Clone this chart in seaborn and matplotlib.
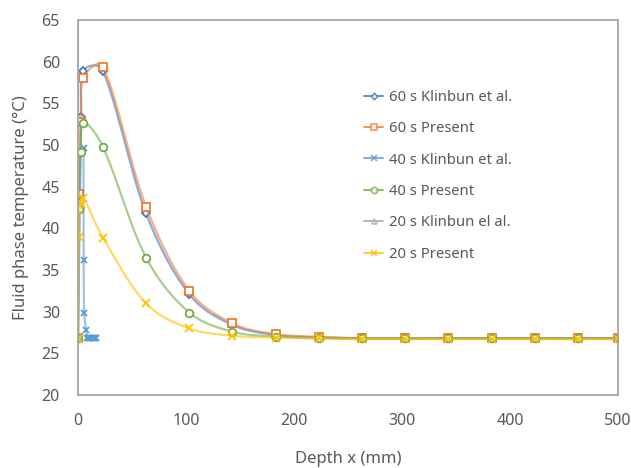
import numpy as np
import pandas as pd
import matplotlib
matplotlib.use("Agg")
import matplotlib.pyplot as plt
from matplotlib.lines import Line2D
import seaborn as sns

# ---------------- data ----------------
present_x = [0, 0.8, 2.5, 5, 23, 63, 103, 143, 183, 223, 263, 303, 343, 383, 423, 463, 500]
present60_y = [26.8, 44.1, 52.8, 58.0, 59.4, 42.6, 32.5, 28.6, 27.3, 27.0, 26.8, 26.8, 26.8, 26.8, 26.8, 26.8, 26.8]
present40_y = [26.8, 42.3, 49.2, 52.7, 49.8, 36.5, 29.9, 27.6, 27.0, 26.8, 26.8, 26.8, 26.8, 26.8, 26.8, 26.8, 26.8]
present20_y = [26.7, 39.0, 42.9, 43.7, 38.9, 31.0, 28.0, 27.1, 26.9, 26.8, 26.7, 26.7, 26.7, 26.7, 26.7, 26.7, 26.7]

klinbun60_x = [0, 3, 5, 23, 63, 103, 143, 183, 223, 263, 303, 343, 383, 423, 463, 500]
klinbun60_y = [26.8, 53.4, 58.9, 58.9, 41.8, 32.1, 28.4, 27.2, 26.9, 26.8, 26.8, 26.8, 26.8, 26.8, 26.8, 26.8]

klinbun40_x = [5.1, 5.2, 5.7, 7.6, 8.5, 9.5, 10.5, 11.5, 12.5, 13.5, 14.5, 15.5, 16.5]
klinbun40_y = [49.7, 36.2, 29.9, 27.8, 26.8, 26.8, 26.8, 26.8, 26.8, 26.8, 26.8, 26.8, 26.8]

klinbun20_x = [0, 0]
klinbun20_y = [26.8, 68]

labels = ["60 s Klinbun et al.", "60 s Present", "40 s Klinbun et al.",
          "40 s Present", "20 s Klinbun el al.", "20 s Present"]
x_ticks = [0, 100, 200, 300, 400, 500]
y_ticks = [20, 25, 30, 35, 40, 45, 50, 55, 60, 65]

series = [
    (klinbun60_x, klinbun60_y, "#4472C4", "D", 4.0, True),
    (present_x, present60_y, "#ED7D31", "s", 5.5, True),
    (klinbun40_x, klinbun40_y, "#5B9BD5", "x", 5.0, False),
    (present_x, present40_y, "#70AD47", "o", 5.5, True),
    (klinbun20_x, klinbun20_y, "#A5A5A5", "^", 4.5, True),
    (present_x, present20_y, "#FFC000", "x", 5.5, False),
]

SX, SY = 1.078, 8.38  # approx px per unit, for Excel-like smoothing in screen space


def excel_smooth(xs, ys, n=40):
    P = np.column_stack([np.asarray(xs, float) * SX, np.asarray(ys, float) * SY])
    segs = []
    for i in range(len(P) - 1):
        p0 = P[i - 1] if i > 0 else P[i]
        p1, p2 = P[i], P[i + 1]
        p3 = P[i + 2] if i + 2 < len(P) else P[i + 1]
        d01 = np.linalg.norm(p1 - p0)
        d12 = np.linalg.norm(p2 - p1)
        d23 = np.linalg.norm(p3 - p2)
        w1 = d12 / (d01 + d12) / 3.0 if d01 + d12 > 0 else 0
        w2 = d12 / (d12 + d23) / 3.0 if d12 + d23 > 0 else 0
        f1 = 0.5 * w1 + 0.5 * min(w1 * 2, 1 / 6.0)
        f2 = 0.5 * w2 + 0.5 * min(w2 * 2, 1 / 6.0)
        b1 = p1 + (p2 - p0) * f1
        b2 = p2 - (p3 - p1) * f2
        t = np.linspace(0, 1, n)[:, None]
        seg = (1 - t) ** 3 * p1 + 3 * (1 - t) ** 2 * t * b1 + 3 * (1 - t) * t ** 2 * b2 + t ** 3 * p2
        segs.append(seg if i == 0 else seg[1:])
    arr = np.vstack(segs)
    return arr[:, 0] / SX, arr[:, 1] / SY


sns.set_theme(style="white")
plt.rcParams["font.family"] = ["Noto Sans", "DejaVu Sans"]
text_col = "#595959"

fig = plt.figure(figsize=(6.31, 4.68), dpi=100)
ax = fig.add_axes([78 / 631, 1 - 395 / 468, (618 - 78) / 631, (395 - 20) / 468])

handles = []
for (xs, ys, col, mk, ms, hollow) in series:
    sx_, sy_ = excel_smooth(xs, ys)
    df_line = pd.DataFrame({"x": sx_, "y": sy_})
    sns.lineplot(data=df_line, x="x", y="y", sort=False, estimator=None, ax=ax,
                 color=col, linewidth=1.6, alpha=0.6)
    df_pts = pd.DataFrame({"x": xs, "y": ys})
    face = "white" if hollow else col
    sns.lineplot(data=df_pts, x="x", y="y", sort=False, estimator=None, ax=ax,
                 color=col, marker=mk, markersize=ms, linestyle="",
                 markeredgecolor=col, markerfacecolor=face, markeredgewidth=1.3)
    handles.append(Line2D([0], [0], color=col, linewidth=1.4, alpha=0.8, marker=mk,
                          markersize=ms * 0.8, markeredgecolor=col,
                          markerfacecolor=face, markeredgewidth=1.2))

ax.set_xlim(0, 500)
ax.set_ylim(20, 65)
ax.set_xticks(x_ticks)
ax.set_yticks(y_ticks)
ax.tick_params(length=0, labelsize=11.5, labelcolor=text_col)
ax.tick_params(axis="x", pad=13)
ax.tick_params(axis="y", pad=13)
for sp in ax.spines.values():
    sp.set_color("#A6A6A6")
    sp.set_linewidth(1.3)
    sp.set_visible(True)
ax.grid(False)

ax.set_xlabel("Depth x (mm)", fontsize=12, color=text_col, labelpad=16)
ax.set_ylabel("Fluid phase temperature (°C)", fontsize=12, color=text_col, labelpad=9)

leg = ax.legend(handles, labels, loc="upper left",
                bbox_to_anchor=(364 / 631, 1 - 90 / 468), bbox_transform=fig.transFigure,
                frameon=False, fontsize=10.7, handlelength=1.3, handletextpad=0.35,
                labelspacing=1.1, borderpad=0, borderaxespad=0)
for t in leg.get_texts():
    t.set_color(text_col)

fig.savefig("out.png", dpi=100)
